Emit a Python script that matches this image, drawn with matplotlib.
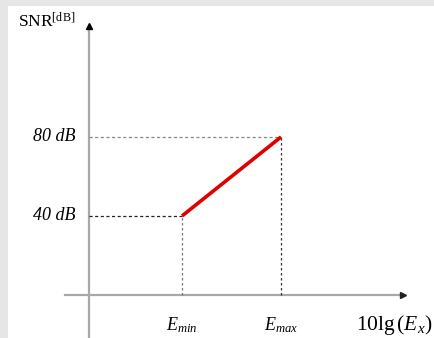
import matplotlib.pyplot as plt

# data: E_min / E_max on the x axis, SNR in dB on the y axis
e_pos = [1.0, 2.0]
e_labels = ['$E_{min}$', '$E_{max}$']
snr_db = [40, 80]
snr_labels = ['40 dB', '80 dB']

plt.rcParams['mathtext.fontset'] = 'custom'
plt.rcParams['mathtext.rm'] = 'Liberation Serif'
plt.rcParams['mathtext.it'] = 'Liberation Serif:italic'
serif = 'Liberation Serif'

fig = plt.figure(figsize=(4.34, 3.38), dpi=100, facecolor='#e6e6e6')
ax = fig.add_axes([8 / 434, 0, 426 / 434, 332 / 338])
ax.set_facecolor('white')
ax.set_xlim(-0.758, 3.545)
ax.set_ylim(-21.8, 146.3)
for s in ax.spines.values():
    s.set_visible(False)
ax.set_xticks([])
ax.set_yticks([])

x0, y0 = 0.061, 0.0  # where the axes cross

# axes lines with small dark arrow heads
ax.plot([x0, x0], [-21.8, 135.5], color='#a8a8a8', lw=1.6)
ax.plot([x0], [136], marker='^', color='black', ms=4)
ax.plot([-0.18, 3.22], [y0, y0], color='#a8a8a8', lw=1.6)
ax.plot([3.23], [y0], marker='>', color='#222222', ms=4)

# dashed guides
ax.plot([x0, e_pos[0]], [snr_db[0], snr_db[0]], color='#222222', ls=(0, (2.5, 2)), lw=0.9)
ax.plot([x0, e_pos[1]], [snr_db[1], snr_db[1]], color='#888888', ls=(0, (2.5, 2)), lw=0.9)
ax.plot([e_pos[0], e_pos[0]], [y0, snr_db[0]], color='#777777', ls=(0, (2, 2)), lw=0.9)
ax.plot([e_pos[1], e_pos[1]], [y0, snr_db[1]], color='#333333', ls=(0, (2, 2)), lw=0.9)

# the SNR line
ax.plot(e_pos, snr_db, color='#e00000', lw=2.6, solid_capstyle='butt')

# labels
for y, lab in zip(snr_db, snr_labels):
    ax.text(-0.08, y, lab, ha='right', va='center', fontsize=13,
            family=serif, style='italic')
for x, lab in zip(e_pos, e_labels):
    ax.text(x, -15.5, lab, ha='center', va='center', fontsize=13, family=serif)
ax.text(3.53, -15.0, r'$\mathrm{10lg}\,(E_{x})$', ha='right', va='center',
        fontsize=15.5, family=serif)
ax.text(-0.655, 138.5, r'SNR$^{\mathrm{[dB]}}$', ha='left', va='center',
        fontsize=12.5, family=serif)

fig.savefig('out.png', dpi=100, facecolor=fig.get_facecolor())
